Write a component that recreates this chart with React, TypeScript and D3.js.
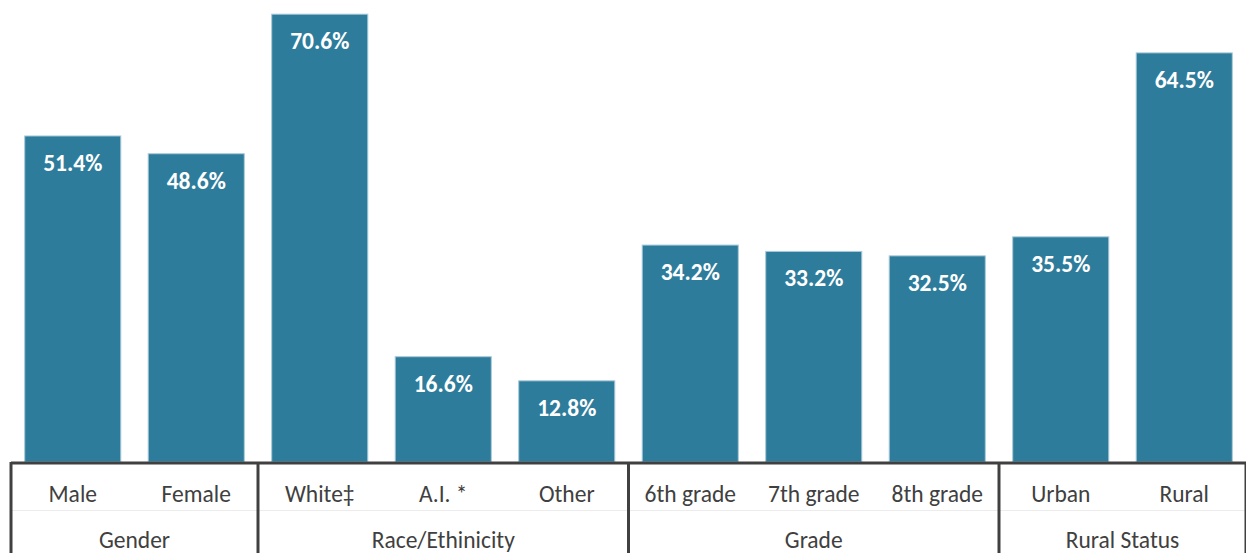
import React from "react";
import * as d3 from "d3";

const categories = ["Male", "Female", "White‡", "A.I. *", "Other", "6th grade", "7th grade", "8th grade", "Urban", "Rural"];
const values = [51.4, 48.6, 70.6, 16.6, 12.8, 34.2, 33.2, 32.5, 35.5, 64.5];
const groups = ["Gender", "Race/Ethinicity", "Grade", "Rural Status"];
const groupSizes = [2, 3, 3, 2];

const W = 1246;
const H = 553;
const left = 11;
const right = 1246;
const baseY = 462;
const pxPerUnit = 6.343;

export default function App() {
  const x = d3.scaleBand<number>().domain(d3.range(categories.length)).range([left, right]).paddingInner(0.222).paddingOuter(0.111);
  const y = d3.scaleLinear().domain([0, 80]).range([baseY, baseY - 80 * pxPerUnit]);
  const step = x.step();
  const bounds: number[] = [0];
  groupSizes.forEach((s, i) => bounds.push(bounds[i] + s));
  const font = "Carlito, 'Open Sans', Calibri, sans-serif";
  return (
    <div style={{ position: "absolute", left: 0, top: 0 }}>
      <svg width={W} height={H} style={{ display: "block" }}>
        <rect width={W} height={H} fill="#fff" />
        {values.map((v, i) => (
          <g key={i}>
            <rect x={x(i)} y={y(v)} width={x.bandwidth()} height={baseY - y(v)} fill="#2E7C9B" stroke="#A9CAD8" strokeWidth={1} />
            <text x={(x(i) as number) + x.bandwidth() / 2} y={y(v) + 35} textAnchor="middle" fill="#fff" fontWeight="bold" fontSize={23.5} fontFamily={font}>
              {v.toFixed(1)}%
            </text>
            <text x={left + step * (i + 0.5)} y={502} textAnchor="middle" fill="#404040" fontSize={23.5} fontFamily={font}>
              {categories[i]}
            </text>
          </g>
        ))}
        <line x1={left} x2={right} y1={510.5} y2={510.5} stroke="#ececec" strokeWidth={1} />
        <line x1={left} x2={right} y1={463} y2={463} stroke="#404040" strokeWidth={3} />
        {bounds.map((b, i) => (
          <line key={i} x1={left + step * b} x2={left + step * b} y1={462} y2={H} stroke="#404040" strokeWidth={3} />
        ))}
        {groups.map((g, i) => (
          <text key={g} x={left + step * (bounds[i] + bounds[i + 1]) / 2} y={548} textAnchor="middle" fill="#404040" fontSize={23.5} fontFamily={font}>
            {g}
          </text>
        ))}
      </svg>
    </div>
  );
}
